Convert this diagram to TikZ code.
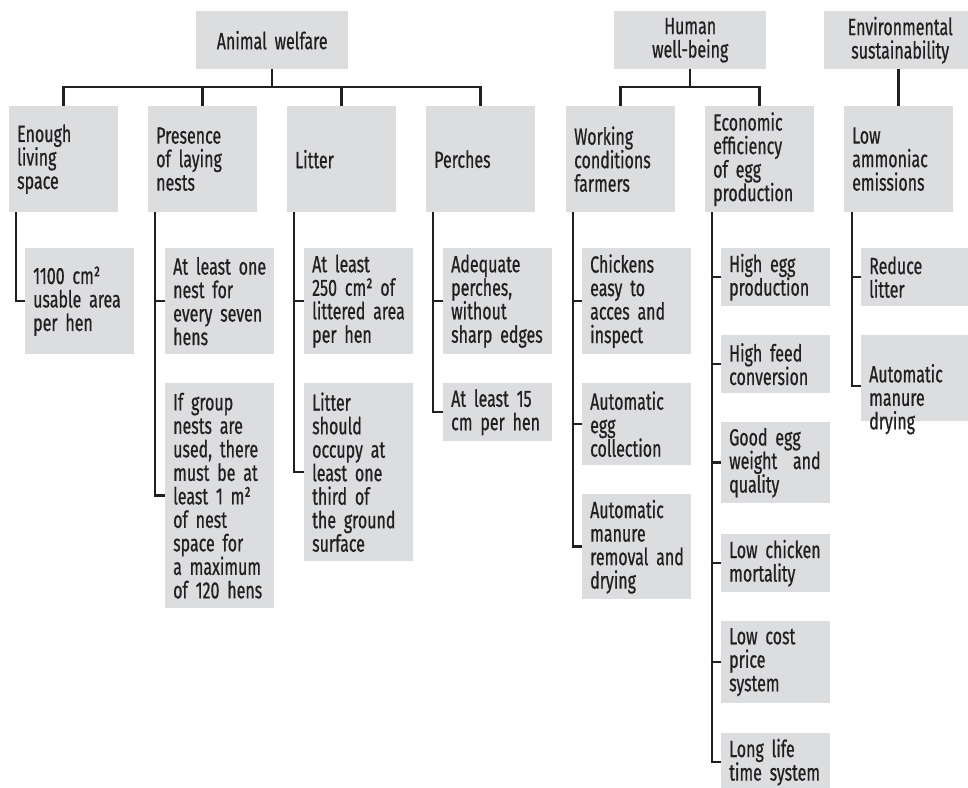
\documentclass[tikz,border=0pt]{standalone}
\usepackage{fontspec}
\setmainfont{Fira Sans}[FakeStretch=0.68, FakeBold=0.6]
\definecolor{ink}{HTML}{231F20}
\definecolor{boxgray}{HTML}{DCDDDF}
\newcommand{\lblfont}{\fontsize{23.5}{23.5}\selectfont\hyphenpenalty=10000\relax}
\tikzset{
  cell/.style={fill=boxgray, text=ink, anchor=north west, inner xsep=4pt,
    inner ysep=0pt, text width=101pt, minimum width=109pt, align=left, font=\lblfont,
    execute at begin node={\leftskip=4pt\relax}},
  head/.style={fill=boxgray, text=ink, anchor=north west, inner xsep=4pt,
    inner ysep=0pt, text width=144pt, minimum width=152pt, minimum height=58pt,
    align=center, font=\lblfont},
  conn/.style={draw=ink, line width=2.5pt, line join=miter}
}
\begin{document}
\begin{tikzpicture}[x=1pt,y=-1pt]
\useasboundingbox (0,0) rectangle (968,787);

% top-level themes
\node[head] (aw) at (196,11) {Animal welfare};
\node[head] (hw) at (614,11) {Human\\well-being};
\node[head] (es) at (824,11) {Environmental\\sustainability};

% second level
\node[cell, minimum height=106pt] (enough) at (9,106)   {Enough\\living\\space};
\node[cell, minimum height=106pt] (pres)   at (148,106) {Presence\\of laying\\nests};
\node[cell, minimum height=106pt] (litter) at (287,106) {Litter};
\node[cell, minimum height=106pt] (perch)  at (426,106) {Perches};
\node[cell, minimum height=106pt] (work)   at (566,106) {Working\\conditions\\farmers};
\node[cell, minimum height=106pt] (econ)   at (705,106) {Economic\\efficiency\\of egg\\production};
\node[cell, minimum height=106pt] (amm)    at (844,106) {Low\\ammoniac\\emissions};

% requirements
\node[cell, minimum height=106pt] (area) at (25,248) {1100 cm²\\usable area\\per hen};
\node[cell, minimum height=106pt] (nestA) at (165,248) {At least one\\nest for\\every seven\\hens};
\node[cell, minimum height=225pt] (nestB) at (165,383) {If group\\nests are\\used, there\\must be at\\least 1 m²\\of nest\\space for\\a maximum\\of 120 hens};
\node[cell, minimum height=106pt] (litA) at (304,248) {At least\\250 cm² of\\littered area\\per hen};
\node[cell, minimum height=178pt] (litB) at (304,383) {Litter\\should\\occupy at\\least one\\third of\\the ground\\surface};
\node[cell, minimum height=106pt] (perA) at (443,248) {Adequate\\perches,\\without\\sharp edges};
\node[cell, minimum height=58pt]  (perB) at (443,383) {At least 15\\cm per hen};
\node[cell, minimum height=106pt] (wkA) at (582,248) {Chickens\\easy to\\acces and\\inspect};
\node[cell, minimum height=82pt]  (wkB) at (582,383) {Automatic\\egg\\collection};
\node[cell, minimum height=105pt] (wkC) at (582,494) {Automatic\\manure\\removal and\\drying};
\node[cell, minimum height=58pt]  (ecA) at (721,248) {High egg\\production};
\node[cell, minimum height=58pt]  (ecB) at (721,335) {High feed\\conversion};
\node[cell, minimum height=81pt]  (ecC) at (721,422) {Good egg\\weight\ \ and\\quality};
\node[cell, minimum height=58pt]  (ecD) at (721,534) {Low chicken\\mortality};
\node[cell, minimum height=82pt]  (ecE) at (721,621) {Low cost\\price\\system};
\node[cell, minimum height=58pt]  (ecF) at (721,733) {Long life\\time system};
\node[cell, minimum height=58pt]  (enA) at (861,248) {Reduce\\litter};
\node[cell, minimum height=86pt, text depth=10pt]  (enB) at (861,335) {Automatic\\manure\\drying};

% buses from the themes
\coordinate (bus) at (0,87);
\draw[conn] (aw.south) -- (aw.south |- bus);
\draw[conn] (enough.north) -- (enough.north |- bus) -- (perch.north |- bus) -- (perch.north);
\draw[conn] (pres.north |- bus) -- (pres.north);
\draw[conn] (litter.north |- bus) -- (litter.north);
\draw[conn] (hw.south) -- (hw.south |- bus);
\draw[conn] (work.north) -- (work.north |- bus) -- (econ.north |- bus) -- (econ.north);
\draw[conn] (amm.north) -- (amm.north |- es.south);

% trunks down the left side of each column
\coordinate (tEnough) at ([xshift=7pt]enough.south west);
\coordinate (tPres)   at ([xshift=7pt]pres.south west);
\coordinate (tLitter) at ([xshift=7pt]litter.south west);
\coordinate (tPerch)  at ([xshift=7pt]perch.south west);
\coordinate (tWork)   at ([xshift=7pt]work.south west);
\coordinate (tEcon)   at ([xshift=7pt]econ.south west);
\coordinate (tAmm)    at ([xshift=8pt]amm.south west);

\draw[conn] (tEnough) |- (area.west);

\draw[conn] (tPres) |- (nestB.west);
\draw[conn] (nestA.west) -- (nestA.west -| tPres);

\draw[conn] (tLitter) |- (litB.west);
\draw[conn] (litA.west) -- (litA.west -| tLitter);

\draw[conn] (tPerch) |- (perB.west);
\draw[conn] (perA.west) -- (perA.west -| tPerch);

\draw[conn] (tWork) |- (wkC.west);
\draw[conn] (wkA.west) -- (wkA.west -| tWork);
\draw[conn] (wkB.west) -- (wkB.west -| tWork);

\draw[conn] (tEcon) |- (ecF.west);
\foreach \n in {ecA,ecB,ecC,ecD,ecE}
  \draw[conn] (\n.west) -- (\n.west -| tEcon);

\draw[conn] (tAmm) |- ([yshift=-8pt]enB.west);
\draw[conn] (enA.west) -- (enA.west -| tAmm);
\end{tikzpicture}
\end{document}
